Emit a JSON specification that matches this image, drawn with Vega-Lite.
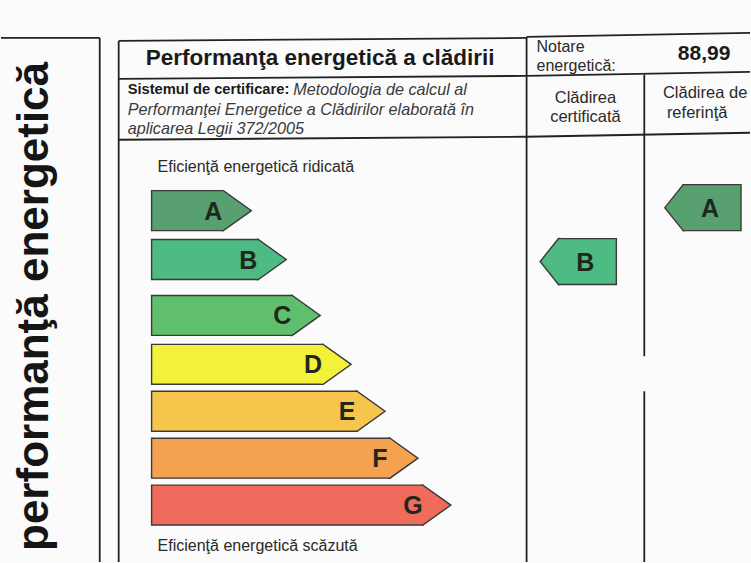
{
  "$schema": "https://vega.github.io/schema/vega-lite/v6.json",
  "width": 751,
  "height": 563,
  "padding": 0,
  "autosize": {"type": "fit", "contains": "padding"},
  "background": "#fbfbfb",
  "config": {"view": {"stroke": null}},
  "datasets": {
    "lines": [
      {"x": 0, "y": 38, "x2": 99, "y2": 38},
      {"x": 99, "y": 38, "x2": 99, "y2": 563},
      {"x": 118, "y": 41, "x2": 527, "y2": 38},
      {"x": 527, "y": 37, "x2": 751, "y2": 33},
      {"x": 118, "y": 41, "x2": 118, "y2": 563},
      {"x": 527, "y": 37, "x2": 527, "y2": 563},
      {"x": 118, "y": 79, "x2": 527, "y2": 76},
      {"x": 527, "y": 76, "x2": 751, "y2": 72},
      {"x": 118, "y": 140, "x2": 527, "y2": 137},
      {"x": 527, "y": 137, "x2": 751, "y2": 133},
      {"x": 645, "y": 75, "x2": 645, "y2": 357},
      {"x": 645, "y": 392, "x2": 645, "y2": 563}
    ],
    "scale": [
      {"cls": "A", "left": 151, "right": 223, "top": 191, "bottom": 231, "mid": 211},
      {"cls": "B", "left": 151, "right": 258, "top": 240, "bottom": 280, "mid": 260},
      {"cls": "C", "left": 151, "right": 292, "top": 296, "bottom": 336, "mid": 316},
      {"cls": "D", "left": 151, "right": 323, "top": 345, "bottom": 385, "mid": 365},
      {"cls": "E", "left": 151, "right": 357, "top": 392, "bottom": 432, "mid": 412},
      {"cls": "F", "left": 151, "right": 390, "top": 439, "bottom": 479, "mid": 459},
      {"cls": "G", "left": 151, "right": 423, "top": 486, "bottom": 526, "mid": 506}
    ],
    "ratings": [
      {"cls": "B", "who": "Clădirea certificată", "left": 559, "right": 617, "top": 239, "bottom": 285, "mid": 262},
      {"cls": "A", "who": "Clădirea de referinţă", "left": 684, "right": 742, "top": 185, "bottom": 231, "mid": 208}
    ]
  },
  "layer": [
    {
      "data": {"name": "lines"},
      "mark": {"type": "rule", "stroke": "#222222", "strokeWidth": 1.8},
      "encoding": {
        "x": {"field": "x", "type": "quantitative", "scale": {"domain": [0, 751], "nice": false, "zero": false}, "axis": null},
        "y": {"field": "y", "type": "quantitative", "scale": {"domain": [0, 563], "reverse": true, "nice": false, "zero": false}, "axis": null},
        "x2": {"field": "x2"},
        "y2": {"field": "y2"}
      }
    },
    {
      "data": {"name": "scale"},
      "mark": {"type": "rect", "stroke": "#3a3a3a", "strokeWidth": 1.4, "opacity": 1},
      "encoding": {
        "x": {"field": "left", "type": "quantitative", "scale": {"domain": [0, 751], "nice": false, "zero": false}, "axis": null},
        "x2": {"field": "right"},
        "y": {"field": "top", "type": "quantitative", "scale": {"domain": [0, 563], "reverse": true, "nice": false, "zero": false}, "axis": null},
        "y2": {"field": "bottom"},
        "color": {"field": "cls", "type": "nominal", "legend": null, "scale": {"domain": ["A", "B", "C", "D", "E", "F", "G"], "range": ["#58a070", "#4dbb83", "#5fbf6c", "#f3f13a", "#f6c64c", "#f5a250", "#ef6c5c"]}}
      }
    },
    {
      "data": {"name": "scale"},
      "mark": {"type": "point", "shape": "M-0.1,-1L0,-1L1.4,0L0,1L-0.1,1", "filled": true, "size": 1600, "stroke": "#3a3a3a", "strokeWidth": 1.4, "opacity": 1},
      "encoding": {
        "x": {"field": "right", "type": "quantitative", "scale": {"domain": [0, 751], "nice": false, "zero": false}, "axis": null},
        "y": {"field": "mid", "type": "quantitative", "scale": {"domain": [0, 563], "reverse": true, "nice": false, "zero": false}, "axis": null},
        "color": {"field": "cls", "type": "nominal", "legend": null, "scale": {"domain": ["A", "B", "C", "D", "E", "F", "G"], "range": ["#58a070", "#4dbb83", "#5fbf6c", "#f3f13a", "#f6c64c", "#f5a250", "#ef6c5c"]}}
      }
    },
    {
      "data": {"name": "scale"},
      "mark": {"type": "text", "font": "Liberation Sans", "fontWeight": "bold", "fontSize": 25, "align": "center", "baseline": "middle", "dx": -10, "dy": 1, "fill": "#1e281f"},
      "encoding": {
        "x": {"field": "right", "type": "quantitative", "scale": {"domain": [0, 751], "nice": false, "zero": false}, "axis": null},
        "y": {"field": "mid", "type": "quantitative", "scale": {"domain": [0, 563], "reverse": true, "nice": false, "zero": false}, "axis": null},
        "text": {"field": "cls"}
      }
    },
    {
      "data": {"name": "ratings"},
      "mark": {"type": "rect", "stroke": "#3a3a3a", "strokeWidth": 1.4, "opacity": 1},
      "encoding": {
        "x": {"field": "left", "type": "quantitative", "scale": {"domain": [0, 751], "nice": false, "zero": false}, "axis": null},
        "x2": {"field": "right"},
        "y": {"field": "top", "type": "quantitative", "scale": {"domain": [0, 563], "reverse": true, "nice": false, "zero": false}, "axis": null},
        "y2": {"field": "bottom"},
        "color": {"field": "cls", "type": "nominal", "legend": null, "scale": {"domain": ["A", "B", "C", "D", "E", "F", "G"], "range": ["#58a070", "#4dbb83", "#5fbf6c", "#f3f13a", "#f6c64c", "#f5a250", "#ef6c5c"]}}
      }
    },
    {
      "data": {"name": "ratings"},
      "mark": {"type": "point", "shape": "M0.1,-1L0,-1L-0.8,0L0,1L0.1,1", "filled": true, "size": 2116, "stroke": "#3a3a3a", "strokeWidth": 1.4, "opacity": 1},
      "encoding": {
        "x": {"field": "left", "type": "quantitative", "scale": {"domain": [0, 751], "nice": false, "zero": false}, "axis": null},
        "y": {"field": "mid", "type": "quantitative", "scale": {"domain": [0, 563], "reverse": true, "nice": false, "zero": false}, "axis": null},
        "color": {"field": "cls", "type": "nominal", "legend": null, "scale": {"domain": ["A", "B", "C", "D", "E", "F", "G"], "range": ["#58a070", "#4dbb83", "#5fbf6c", "#f3f13a", "#f6c64c", "#f5a250", "#ef6c5c"]}}
      }
    },
    {
      "data": {"name": "ratings"},
      "mark": {"type": "text", "font": "Liberation Sans", "fontWeight": "bold", "fontSize": 25, "align": "center", "baseline": "middle", "dx": -31, "dy": 1, "fill": "#1e281f"},
      "encoding": {
        "x": {"field": "right", "type": "quantitative", "scale": {"domain": [0, 751], "nice": false, "zero": false}, "axis": null},
        "y": {"field": "mid", "type": "quantitative", "scale": {"domain": [0, 563], "reverse": true, "nice": false, "zero": false}, "axis": null},
        "text": {"field": "cls"}
      }
    },
    {
      "data": {"values": [{"t": "performanţă energetică", "x": 34, "y": 307}]},
      "mark": {"type": "text", "font": "Liberation Sans", "fontWeight": "bold", "fontSize": 44, "angle": 270, "align": "center", "baseline": "middle", "fill": "#151515"},
      "encoding": {
        "x": {"field": "x", "type": "quantitative", "scale": {"domain": [0, 751], "nice": false, "zero": false}, "axis": null},
        "y": {"field": "y", "type": "quantitative", "scale": {"domain": [0, 563], "reverse": true, "nice": false, "zero": false}, "axis": null},
        "text": {"field": "t"}
      }
    },
    {
      "data": {"values": [
        {"t": "Performanţa energetică a clădirii", "x": 320, "y": 58}
      ]},
      "mark": {"type": "text", "font": "Liberation Sans", "fontWeight": "bold", "fontSize": 22.5, "align": "center", "baseline": "middle", "fill": "#1a1a1a"},
      "encoding": {
        "x": {"field": "x", "type": "quantitative", "scale": {"domain": [0, 751], "nice": false, "zero": false}, "axis": null},
        "y": {"field": "y", "type": "quantitative", "scale": {"domain": [0, 563], "reverse": true, "nice": false, "zero": false}, "axis": null},
        "text": {"field": "t"}
      }
    },
    {
      "data": {"values": [
        {"t": "88,99", "x": 705, "y": 54}
      ]},
      "mark": {"type": "text", "font": "Liberation Sans", "fontWeight": "bold", "fontSize": 21, "align": "center", "baseline": "middle", "fill": "#1a1a1a"},
      "encoding": {
        "x": {"field": "x", "type": "quantitative", "scale": {"domain": [0, 751], "nice": false, "zero": false}, "axis": null},
        "y": {"field": "y", "type": "quantitative", "scale": {"domain": [0, 563], "reverse": true, "nice": false, "zero": false}, "axis": null},
        "text": {"field": "t"}
      }
    },
    {
      "data": {"values": [{"t": "Sistemul de certificare:", "x": 127, "y": 90}]},
      "mark": {"type": "text", "font": "Liberation Sans", "fontWeight": "bold", "fontSize": 14.7, "align": "left", "baseline": "middle", "fill": "#1a1a1a"},
      "encoding": {
        "x": {"field": "x", "type": "quantitative", "scale": {"domain": [0, 751], "nice": false, "zero": false}, "axis": null},
        "y": {"field": "y", "type": "quantitative", "scale": {"domain": [0, 563], "reverse": true, "nice": false, "zero": false}, "axis": null},
        "text": {"field": "t"}
      }
    },
    {
      "data": {"values": [
        {"t": "Metodologia de calcul al", "x": 293, "y": 90},
        {"t": "Performanţei Energetice a Clădirilor elaborată în", "x": 127, "y": 110},
        {"t": "aplicarea Legii 372/2005", "x": 127, "y": 129}
      ]},
      "mark": {"type": "text", "font": "Liberation Sans", "fontStyle": "italic", "fontSize": 16.2, "align": "left", "baseline": "middle", "fill": "#3a3a3a"},
      "encoding": {
        "x": {"field": "x", "type": "quantitative", "scale": {"domain": [0, 751], "nice": false, "zero": false}, "axis": null},
        "y": {"field": "y", "type": "quantitative", "scale": {"domain": [0, 563], "reverse": true, "nice": false, "zero": false}, "axis": null},
        "text": {"field": "t"}
      }
    },
    {
      "data": {"values": [
        {"t": "Notare", "x": 537, "y": 47},
        {"t": "energetică:", "x": 537, "y": 66},
        {"t": "Eficienţă energetică ridicată", "x": 157, "y": 167},
        {"t": "Eficienţă energetică scăzută", "x": 157, "y": 547}
      ]},
      "mark": {"type": "text", "font": "Liberation Sans", "fontSize": 16, "align": "left", "baseline": "middle", "fill": "#2a2a2a"},
      "encoding": {
        "x": {"field": "x", "type": "quantitative", "scale": {"domain": [0, 751], "nice": false, "zero": false}, "axis": null},
        "y": {"field": "y", "type": "quantitative", "scale": {"domain": [0, 563], "reverse": true, "nice": false, "zero": false}, "axis": null},
        "text": {"field": "t"}
      }
    },
    {
      "data": {"values": [
        {"t": "Clădirea", "x": 586, "y": 98},
        {"t": "certificată", "x": 586, "y": 117},
        {"t": "Clădirea de", "x": 706, "y": 93},
        {"t": "referinţă", "x": 698, "y": 113}
      ]},
      "mark": {"type": "text", "font": "Liberation Sans", "fontSize": 16.5, "align": "center", "baseline": "middle", "fill": "#2a2a2a"},
      "encoding": {
        "x": {"field": "x", "type": "quantitative", "scale": {"domain": [0, 751], "nice": false, "zero": false}, "axis": null},
        "y": {"field": "y", "type": "quantitative", "scale": {"domain": [0, 563], "reverse": true, "nice": false, "zero": false}, "axis": null},
        "text": {"field": "t"}
      }
    }
  ]
}
